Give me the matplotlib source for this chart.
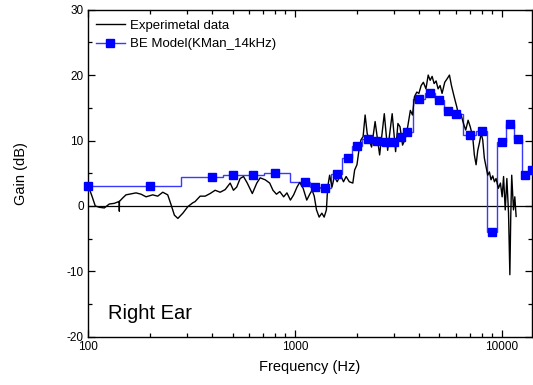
import numpy as np
import matplotlib.pyplot as plt
from matplotlib.lines import Line2D

plt.rcParams['font.family'] = ['Liberation Sans', 'DejaVu Sans']
plt.rcParams['axes.unicode_minus'] = False

exp_freq = [100, 104.6, 108.5, 113.5, 120, 126.8, 134, 141.7, 141.8, 142, 147, 152.7,
            164.6, 170.8, 180.6, 191, 205.6, 217.4, 230, 243, 252.2, 261.7, 272, 287.6,
            304, 321.7, 329, 348.6, 368.5, 389.5, 412, 435.6, 460.5, 487, 505, 524,
            544, 565, 589, 623, 655, 680, 719, 756, 784, 815, 846, 883, 916, 952,
            987, 1025, 1056, 1097, 1142, 1185, 1213, 1241, 1273, 1311, 1351, 1386,
            1421, 1442, 1473, 1513, 1553, 1602, 1662, 1719, 1770, 1834, 1907, 1946,
            1997, 2043, 2088, 2138, 2187, 2237, 2307, 2350, 2444, 2570, 2707, 2810,
            2955, 3070, 3150, 3225, 3317, 3404, 3512, 3618, 3706, 3786, 3888, 3978,
            4080, 4182, 4303, 4413, 4510, 4610, 4713, 4818, 4927, 5037, 5150, 5305,
            5465, 5590, 5716, 5890, 6070, 6232, 6338, 6535, 6700, 6880, 7045, 7240,
            7375, 7520, 7660, 7800, 7960, 8095, 8245, 8400, 8560, 8720, 8880, 9050,
            9225, 9390, 9640, 9860, 10050, 10210, 10400, 10590, 10790, 10950, 11060,
            11180, 11400, 11570, 11740]
exp_gain = [3.2, 1.5, 0.0, -0.2, -0.3, 0.3, 0.4, 0.7, -0.8, 0.7, 1.2, 1.7,
            1.9, 2.0, 1.8, 1.4, 1.7, 1.5, 2.1, 1.7, 0.2, -1.4, -1.9, -1.1,
            -0.1, 0.5, 0.65, 1.5, 1.5, 1.9, 2.4, 2.1, 2.5, 3.5, 2.4, 2.9,
            4.2, 4.5, 3.5, 1.9, 3.5, 4.3, 4.0, 3.5, 2.4, 1.8, 2.2, 1.4, 2.0, 0.9,
            1.7, 2.9, 3.6, 2.7, 0.9, 1.9, 2.4, 1.5, -0.6, -1.7, -1.1, -1.7,
            -0.6, 2.9, 4.7, 2.9, 4.5, 3.7, 4.7, 3.7, 4.5, 3.7, 3.5, 5.5,
            6.3, 8.6, 10.1, 10.6, 13.9, 11.1, 9.7, 9.0, 12.9, 7.8, 14.1, 8.5,
            14.1, 8.3, 12.6, 12.1, 9.3, 10.1, 12.1, 14.6, 13.9, 16.7, 17.4, 17.2,
            18.4, 18.9, 17.9, 20.0, 19.2, 19.8, 18.7, 19.1, 17.9, 18.4, 17.2, 18.9,
            19.5, 20.0, 18.4, 16.7, 15.1, 13.4, 14.1, 12.6, 11.6, 13.1, 12.1, 10.6,
            7.8, 6.3, 8.5, 9.6, 11.1, 10.1, 7.3, 6.0, 4.7, 5.2, 4.0, 4.6,
            3.7, 4.2, 2.7, 3.5, 1.4, 4.5, -0.6, 4.2, -1.1, -10.5, -1.6,
            4.7, -0.6, 1.4, -1.6]

# boundary element model (blue squares)
model_freq = [100, 200, 400, 500, 630, 800, 1125, 1250, 1400, 1600, 1800, 2000,
              2250, 2500, 2750, 3000, 3250, 3500, 4000, 4500, 5000, 5500, 6000,
              7000, 8000, 9000, 10000, 11000, 12000, 13000, 14000]
model_gain = [3.0, 3.1, 4.4, 4.7, 4.8, 5.0, 3.7, 2.9, 2.7, 4.9, 7.3, 9.2,
              10.3, 9.95, 9.85, 9.8, 10.55, 11.3, 16.35, 17.3, 16.15, 14.5, 14.1,
              10.8, 11.5, -4.0, 9.8, 12.6, 10.2, 4.7, 5.5]

blue_line = '#3a3aff'

fig = plt.figure(figsize=(5.33, 3.85), dpi=100)
ax = fig.add_axes([0.165, 0.125, 0.833, 0.85])

ax.axhline(0, color='black', lw=0.9, zorder=1)
ax.plot(exp_freq, exp_gain, color='black', lw=1.0, zorder=3)

# step edges halfway between model points on the log axis
mf = np.array(model_freq, dtype=float)
edges = np.concatenate([[mf[0]], np.sqrt(mf[:-1] * mf[1:]), [mf[-1]]])
ax.stairs(model_gain, edges, baseline=None, color=blue_line, lw=1.0, zorder=2)
ax.plot(model_freq, model_gain, ls='none', marker='s', ms=5.8, color='blue',
        zorder=4, clip_on=False)

ax.set_xscale('log')
ax.set_xlim(100, 14000)
ax.set_ylim(-20, 30)
ax.set_xticks([100, 1000, 10000])
ax.set_xticklabels(['100', '1000', '10000'])
ax.set_yticks(range(-20, 31, 10))
ax.set_yticks(range(-15, 30, 10), minor=True)
ax.tick_params(which='both', direction='in', top=True, right=True, labelsize=8.5,
               width=0.9)
ax.tick_params(which='major', length=5, pad=3)
ax.tick_params(which='minor', length=3)
for s in ax.spines.values():
    s.set_linewidth(1.0)

ax.set_xlabel('Frequency (Hz)', fontsize=10.5, labelpad=5)
ax.set_ylabel('Gain (dB)', fontsize=10.5, labelpad=28)

handles = [Line2D([], [], color='black', lw=1.0),
           Line2D([], [], color=blue_line, lw=1.0, marker='s', ms=5.8,
                  mfc='blue', mec='blue')]
ax.legend(handles, ['Experimetal data', 'BE Model(KMan_14kHz)'], loc='upper left',
          frameon=False, fontsize=9.5, handlelength=2.2, handletextpad=0.35,
          labelspacing=0.45, borderaxespad=0.2, bbox_to_anchor=(0.0, 0.993))

ax.text(0.045, 0.055, 'Right Ear', transform=ax.transAxes, fontsize=14.5)

fig.savefig('out.png', dpi=100)
